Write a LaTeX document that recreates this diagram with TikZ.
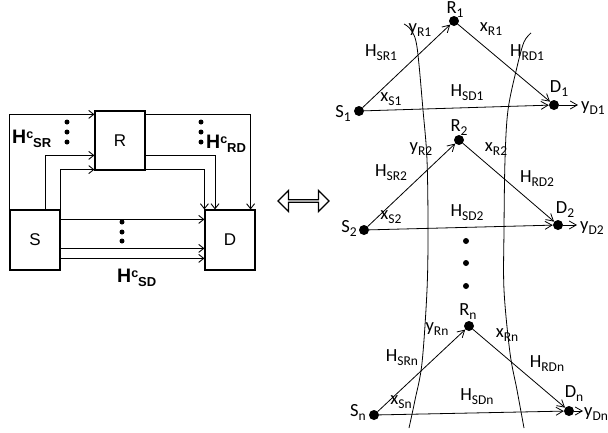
\documentclass[tikz,border=0pt]{standalone}
\usepackage{fontspec}
\setmainfont{Liberation Sans}
\newfontfamily\carl{Carlito}
\usetikzlibrary{arrows.meta,shapes.arrows}
\newcommand\lb[2]{#1\raisebox{-4pt}{\fontsize{13.5}{13.5}\selectfont #2}}
\newcommand\hcl[1]{H\raisebox{5pt}{\fontsize{12.5}{12.5}\selectfont c}\raisebox{-4pt}{\fontsize{13}{13}\selectfont #1}}
\tikzset{
  box/.style={draw, line width=1.2pt, minimum width=50pt, minimum height=60pt, inner sep=0pt, font=\fontsize{17}{17}\selectfont},
  larr/.style={-{Straight Barb[length=5pt,width=8pt]}, line width=0.9pt},
  rarr/.style={-{Straight Barb[length=7pt,width=8pt]}, line width=0.8pt},
  bigdot/.style={circle, fill, inner sep=0pt, minimum size=10pt},
  smalldot/.style={circle, fill, inner sep=0pt, minimum size=5pt},
  middot/.style={circle, fill, inner sep=0pt, minimum size=6pt},
  lab/.style={inner sep=0pt, font=\carl\fontsize{18.5}{18.5}\selectfont},
  hlab/.style={inner sep=0pt, anchor=base west, font=\bfseries\fontsize{19.5}{19.5}\selectfont},
  curve/.style={line width=0.8pt},
}
\begin{document}
\begin{tikzpicture}[x=1pt,y=-1pt]
\path[fill=white,use as bounding box] (0,0) rectangle (608,432);

% ---------- left diagram ----------
\node[box] (S) at (35,240) {\raisebox{-5pt}{S}};
\node[box] (D) at (230,240) {\raisebox{-1pt}{D}};
\node[box, minimum height=59pt] (R) at (120,140.5) {\raisebox{-6pt}{R}};

\draw[larr] (S.north west) |- ([yshift=-4pt]R.north west);
\draw[larr] ([yshift=-4pt]R.north east) -| ([xshift=-5pt]D.north east);
\draw[larr] ([xshift=10pt]S.north) |- ([yshift=-45pt]R.north west);
\draw[larr] ([yshift=-45pt]R.north east) -| ([xshift=-15pt]D.north);
\draw[larr] (S.north east) |- ([yshift=1pt]R.south west);
\draw[larr] ([yshift=1pt]R.south east) -| (D.north west);

\draw[larr] ([yshift=-10pt]S.north east) -- ([yshift=-10pt]D.north west);
\draw[larr] ([yshift=-39pt]S.north east) -- ([yshift=-39pt]D.north west);
\draw[larr] ([yshift=-49pt]S.north east) -- ([yshift=-49pt]D.north west);

\node[smalldot] (ld1) at (122,222) {};
\node[smalldot] (ld2) at (122,232) {};
\node[smalldot] (ld3) at (122,241) {};
\node[smalldot] (sr1) at (67,122) {};
\node[smalldot] (sr2) at (67,132) {};
\node[smalldot] (sr3) at (67,142) {};
\node[smalldot] (rd1) at (201,122) {};
\node[smalldot] (rd2) at (201,132) {};
\node[smalldot] (rd3) at (201,142) {};

\node[hlab] (hsr) at (12,143) {\hcl{SR}};
\node[hlab] (hrd) at (206,148) {\hcl{RD}};
\node[hlab] (hsd) at (117,282) {\hcl{SD}};

% double arrow
\node[double arrow, draw, line width=1.4pt, inner sep=0pt, minimum width=21pt,
      double arrow head extend=5pt, minimum height=51pt] (eq) at (303.5,201) {};

% ---------- right diagram ----------
\draw[curve] plot[smooth, tension=0.55] coordinates {(404,24) (411,30) (417,47) (423,110) (427,160) (428,230) (427,290) (422,363) (415,400) (409,428)};
\draw[curve] plot[smooth, tension=0.55] coordinates {(531,33) (524,42) (517,67) (508,110) (505,160) (504,230) (504,290) (510,353) (517,390) (524,428)};

% group 1
\node[bigdot] (S1) at (359,111) {};
\node[bigdot] (R1) at (454,21) {};
\node[bigdot] (D1) at (554,105) {};
\coordinate (Y1) at (578,105);
\draw[rarr] (S1) -- (R1);
\draw[rarr] (R1) -- (D1);
\draw[rarr] (S1) -- (D1);
\draw[rarr] (D1) -- (Y1);
\node[lab] (lR1) at (455,10) {\lb{R}{1}};
\node[lab] (lyR1) at (420,30) {\lb{y}{R1}};
\node[lab] (lxR1) at (491,29) {\lb{x}{R1}};
\node[lab] (lHSR1) at (381,53) {\lb{H}{SR1}};
\node[lab] (lHRD1) at (527,53) {\lb{H}{RD1}};
\node[lab] (lHSD1) at (467,93) {\lb{H}{SD1}};
\node[lab] (lxS1) at (391,99) {\lb{x}{S1}};
\node[lab] (lS1) at (343,113) {\lb{S}{1}};
\node[lab] (lD1) at (559,89) {\lb{D}{1}};
\node[lab, anchor=west] (lyD1) at (581,108) {\lb{y}{D1}};

% group 2
\node[bigdot] (S2) at (364,230) {};
\node[bigdot] (R2) at (459,140) {};
\node[bigdot] (D2) at (558,225) {};
\coordinate (Y2) at (577,225);
\draw[rarr] (S2) -- (R2);
\draw[rarr] (R2) -- (D2);
\draw[rarr] (S2) -- (D2);
\draw[rarr] (D2) -- (Y2);
\node[lab] (lR2) at (459,128) {\lb{R}{2}};
\node[lab] (lyR2) at (421,149) {\lb{y}{R2}};
\node[lab] (lxR2) at (496,149) {\lb{x}{R2}};
\node[lab] (lHSR2) at (391,173) {\lb{H}{SR2}};
\node[lab] (lHRD2) at (537,179) {\lb{H}{RD2}};
\node[lab] (lHSD2) at (467,213) {\lb{H}{SD2}};
\node[lab] (lxS2) at (391,217) {\lb{x}{S2}};
\node[lab] (lS2) at (349,228) {\lb{S}{2}};
\node[lab] (lD2) at (565,210) {\lb{D}{2}};
\node[lab, anchor=west] (lyD2) at (580,228) {\lb{y}{D2}};

\node[middot] (vd1) at (466,241) {};
\node[middot] (vd2) at (466,263) {};
\node[middot] (vd3) at (466,286) {};

% group n
\node[bigdot] (Sn) at (374,415) {};
\node[bigdot] (Rn) at (469,326) {};
\node[bigdot] (Dn) at (569,411) {};
\coordinate (Yn) at (583,411);
\draw[rarr] (Sn) -- (Rn);
\draw[rarr] (Rn) -- (Dn);
\draw[rarr] (Sn) -- (Dn);
\draw[rarr] (Dn) -- (Yn);
\node[lab] (lRn) at (468,312) {\lb{R}{n}};
\node[lab] (lyRn) at (437,329) {\lb{y}{Rn}};
\node[lab] (lxRn) at (507,335) {\lb{x}{Rn}};
\node[lab] (lHSRn) at (402,358) {\lb{H}{SRn}};
\node[lab] (lHRDn) at (547,364) {\lb{H}{RDn}};
\node[lab] (lHSDn) at (477,397) {\lb{H}{SDn}};
\node[lab] (lxSn) at (401,402) {\lb{x}{Sn}};
\node[lab] (lSn) at (358,412) {\lb{S}{n}};
\node[lab] (lDn) at (574,394) {\lb{D}{n}};
\node[lab, anchor=west] (lyDn) at (584,414) {\lb{y}{Dn}};
\end{tikzpicture}
\end{document}
